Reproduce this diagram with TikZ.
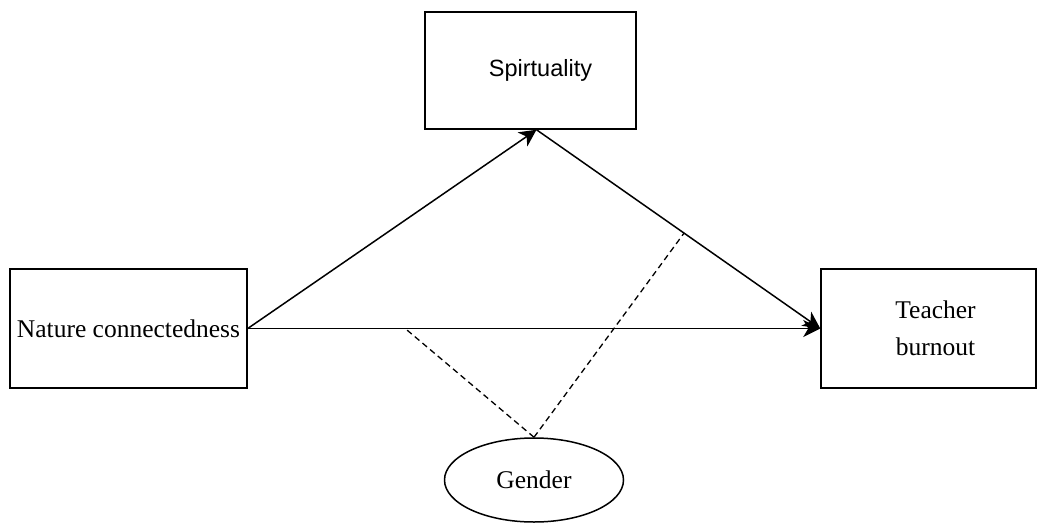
\documentclass[tikz,border=0pt]{standalone}
\usepackage{fontspec}
\setmainfont{Liberation Serif}
\newfontfamily\arialfont{Liberation Sans}
\usetikzlibrary{calc,arrows.meta,shapes.geometric}

\begin{document}
\begin{tikzpicture}[x=1pt,y=-1pt,
    box/.style={draw, line width=1.5pt, inner sep=0pt, align=center,
      font=\fontsize{25.5}{37}\selectfont},
    effect/.style={line width=1.5pt, -{Stealth[length=17pt,width=17pt,inset=5pt]}},
    moder/.style={line width=1.3pt, dash pattern=on 6pt off 4pt}]
    \useasboundingbox (0,0) rectangle (1046,522);
    % variables
    \node[box, minimum width=211pt, minimum height=117pt,
      font=\arialfont\fontsize{23.5}{28}\selectfont] (spirit) at (530.5,70.5) {\hspace*{20pt}Spirtuality};
    \node[box, minimum width=237pt, minimum height=119pt] (nature) at (128.5,328.5) {Nature connectedness};
    \node[box, minimum width=215pt, minimum height=119pt] (teacher) at (928.5,328.5) {\hspace*{14pt}Teacher\\\hspace*{14pt}burnout};
    \node[box, ellipse, minimum width=179pt, minimum height=84pt] (gender) at (534,480) {Gender};
    % paths
    \coordinate (sb) at ([xshift=6pt]spirit.south);
    \draw[effect] (nature.east) -- (sb);
    \draw[effect] (sb) -- (teacher.west);
    \draw[effect] (nature.east) -- (teacher.west);
    % moderation
    \coordinate (m1) at ($(nature.east)!0.275!(teacher.west)$);
    \coordinate (m2) at ($(sb)!0.52!(teacher.west)$);
    \draw[moder] (gender.north) -- (m1);
    \draw[moder] (gender.north) -- (m2);
\end{tikzpicture}
\end{document}
